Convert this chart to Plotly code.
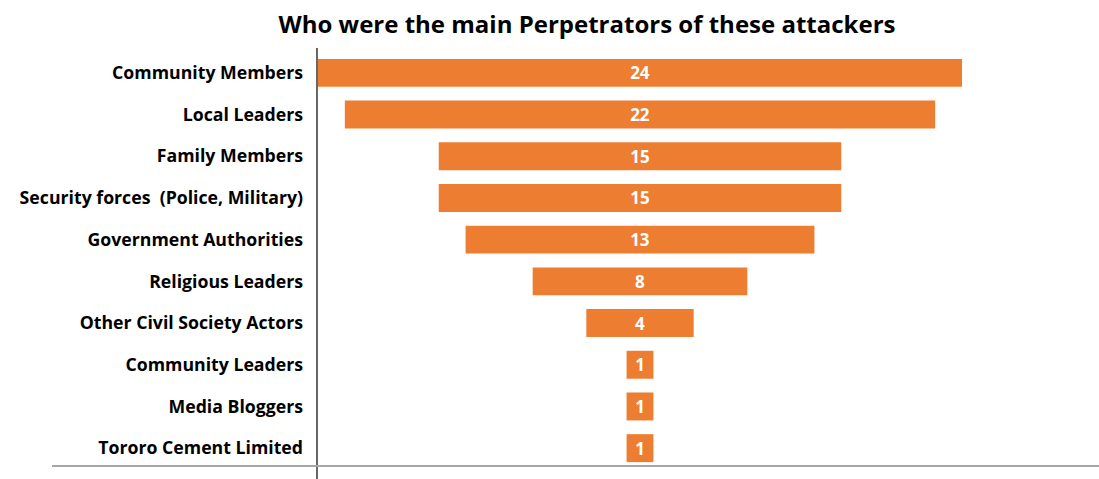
import plotly.graph_objects as go

# Perpetrator groups and number of reported attacks
categories = [
    "Community Members",
    "Local Leaders",
    "Family Members",
    "Security forces  (Police, Military)",
    "Government Authorities",
    "Religious Leaders",
    "Other Civil Society Actors",
    "Community Leaders",
    "Media Bloggers",
    "Tororo Cement Limited",
]
counts = [24, 22, 15, 15, 13, 8, 4, 1, 1, 1]

title_text = "Who were the main Perpetrators of these attackers"

ORANGE = "#ED7D31"
FONT = "'Open Sans', Calibri, Lato, sans-serif"

W, H = 1099, 479
L, R, T, B = 318, 137, 52, 10
plot_w = W - L - R
plot_h = H - T - B

fig = go.Figure(
    go.Funnel(
        y=categories,
        x=counts,
        marker=dict(color=ORANGE, line=dict(width=0)),
        connector=dict(visible=False),
        textinfo="value",
        textposition="inside",
        insidetextanchor="middle",
        constraintext="none",
        textfont=dict(family=FONT, size=17, color="white", weight="bold"),
        hoverinfo="y+x",
    )
)

half = max(counts) / 2
fig.update_layout(
    width=W,
    height=H,
    margin=dict(l=L, r=R, t=T, b=B, pad=0),
    paper_bgcolor="white",
    plot_bgcolor="white",
    showlegend=False,
    funnelgap=0.33,
    title=dict(
        text=title_text,
        x=587 / W,
        xanchor="center",
        xref="container",
        y=1 - 25 / H,
        yanchor="middle",
        yref="container",
        font=dict(family=FONT, size=24, color="black", weight="bold"),
    ),
    xaxis=dict(
        range=[-half, half],
        visible=False,
        showgrid=False,
        zeroline=False,
        fixedrange=True,
    ),
    yaxis=dict(
        categoryorder="array",
        categoryarray=categories,
        autorange="reversed",
        showgrid=False,
        zeroline=False,
        showline=False,
        ticks="",
        ticklabelstandoff=14,
        tickfont=dict(family=FONT, size=17.7, color="black", weight="bold"),
    ),
)

# Category axis line (extends slightly above and below the plot area)
fig.add_shape(
    type="line",
    xref="paper", yref="paper",
    x0=-1 / plot_w, x1=-1 / plot_w,
    y0=-(H - T - plot_h) / plot_h - 0.01, y1=1 + 4 / plot_h,
    line=dict(color="black", width=1.2),
)
# Baseline across the bottom of the chart
base_y = 1 - (466 - T) / plot_h
fig.add_shape(
    type="line",
    xref="paper", yref="paper",
    x0=(52 - L) / plot_w, x1=(W - L) / plot_w,
    y0=base_y, y1=base_y,
    line=dict(color="#A6A6A6", width=2),
)

fig.write_html("out.html")
